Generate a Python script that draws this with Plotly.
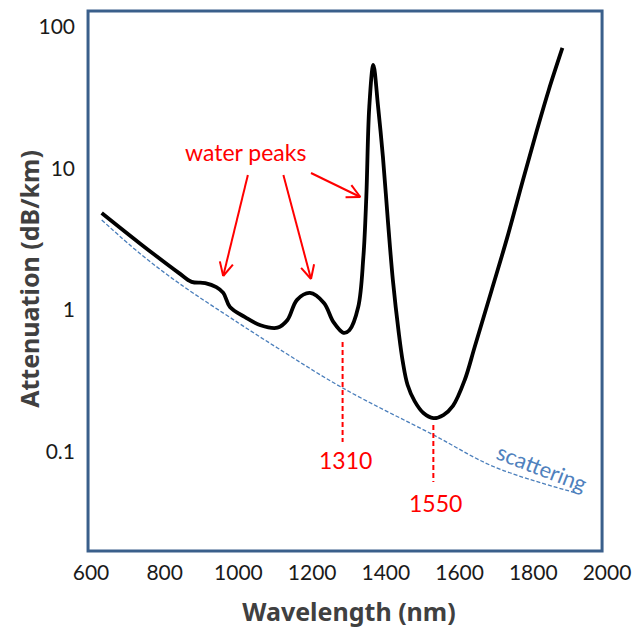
import math
import plotly.graph_objects as go

# ---------------- data ----------------
wavelength_nm = [629, 731, 838, 873, 910, 940, 959, 977, 1018, 1060, 1106, 1133, 1159,
                 1194, 1232, 1258, 1285, 1301, 1325, 1339, 1347, 1355, 1366, 1379, 1392,
                 1406, 1419, 1435, 1446, 1459, 1478, 1502, 1529, 1556, 1582, 1614, 1641,
                 1687, 1730, 1772, 1810, 1842, 1879]
attenuation_db_km = [4.85, 2.98, 1.83, 1.58, 1.55, 1.45, 1.32, 1.05, 0.89, 0.78, 0.75, 0.85, 1.18,
                     1.32, 1.12, 0.82, 0.69, 0.72, 1.05, 2.37, 6.3, 27.2, 53.9, 27.2, 12.1,
                     4.12, 1.63, 0.69, 0.43, 0.295, 0.227, 0.187, 0.172, 0.181, 0.21, 0.32, 0.548,
                     1.38, 3.3, 8.3, 18.7, 35.9, 71.1]

scatter_nm = [629, 731, 838, 1000, 1106, 1283, 1529, 1695, 1917]
scatter_db_km = [4.33, 2.53, 1.55, 0.81, 0.539, 0.281, 0.131, 0.0777, 0.0509]

x_ticks = [600, 800, 1000, 1200, 1400, 1600, 1800, 2000]
y_ticks = [0.1, 1, 10, 100]
y_tick_labels = ["0.1", "1", "10", "100"]

# ---------------- layout helpers ----------------
W, H = 642, 634
PL, PR, PT, PB = 91, 614, 11, 551   # plot area in pixels


def px(x):
    return (x - PL) / (PR - PL)


def py(y):
    return (PB - y) / (PB - PT)


FONT = "Lato, 'Noto Sans', sans-serif"
TITLE_FONT = "'Noto Sans', 'Open Sans', sans-serif"
RED = "#FF0000"
BLUE_TXT = "#4F81BD"
FRAME = "#3A5F8B"

fig = go.Figure()

fig.add_trace(go.Scatter(
    x=scatter_nm, y=scatter_db_km, mode="lines",
    line=dict(color="#4A7EBB", width=1.3, dash="4px,2px", shape="spline", smoothing=1.0),
    hoverinfo="skip", showlegend=False))

fig.add_trace(go.Scatter(
    x=wavelength_nm, y=attenuation_db_km, mode="lines",
    line=dict(color="black", width=3.8, shape="spline", smoothing=1.0),
    hoverinfo="skip", showlegend=False))

shapes = []
# frame
shapes.append(dict(type="rect", xref="paper", yref="paper",
                   x0=px(88), x1=px(609), y0=py(551), y1=py(11),
                   line=dict(color=FRAME, width=3), fillcolor="rgba(0,0,0,0)", layer="above"))


def arrow(tail, head, length=15, ang=27):
    (tx, ty), (hx, hy) = tail, head
    shapes.append(dict(type="line", xref="paper", yref="paper",
                       x0=px(tx), y0=py(ty), x1=px(hx), y1=py(hy),
                       line=dict(color=RED, width=2)))
    a = math.atan2(ty - hy, tx - hx)
    for s in (-1, 1):
        b = a + s * math.radians(ang)
        ex, ey = hx + length * math.cos(b), hy + length * math.sin(b)
        shapes.append(dict(type="line", xref="paper", yref="paper",
                           x0=px(hx), y0=py(hy), x1=px(ex), y1=py(ey),
                           line=dict(color=RED, width=2)))


arrow((250, 175), (225, 276))
arrow((286, 175), (314, 279))
arrow((314, 173), (364, 197))

# dashed markers at 1310 / 1550
shapes.append(dict(type="line", xref="paper", yref="paper",
                   x0=px(346), x1=px(346), y0=py(342), y1=py(442),
                   line=dict(color=RED, width=2, dash="5px,3px")))
shapes.append(dict(type="line", xref="paper", yref="paper",
                   x0=px(438), x1=px(438), y0=py(425), y1=py(482),
                   line=dict(color=RED, width=2, dash="5px,3px")))


def label(text, x, y, size, color, angle=0, family=FONT):
    return dict(text=text, xref="paper", yref="paper", x=px(x), y=py(y),
                xanchor="center", yanchor="middle", showarrow=False, textangle=angle,
                font=dict(family=family, size=size, color=color))


annotations = [
    label("water peaks", 248, 152, 23, RED),
    label("1310", 349, 460, 23, RED),
    label("1550", 440, 503, 23, RED),
    label("scattering", 548, 467, 22, BLUE_TXT, angle=21),
    label("<b>Attenuation (dB/km)</b>", 28, 279, 25, "#404040", angle=-90, family=TITLE_FONT),
]

fig.update_layout(
    width=W, height=H,
    margin=dict(l=PL, r=W - PR, t=PT, b=H - PB, pad=0),
    paper_bgcolor="white", plot_bgcolor="white",
    shapes=shapes, annotations=annotations,
    showlegend=False,
    xaxis=dict(range=[600, 2000], tickvals=x_ticks, ticks="", showgrid=False,
               zeroline=False, showline=False, ticklabelstandoff=7,
               tickfont=dict(family=FONT, size=21, color="#1a1a1a"),
               title=dict(text="<b>Wavelength (nm)</b>", standoff=20,
                          font=dict(family=TITLE_FONT, size=25, color="#404040"))),
    yaxis=dict(type="log", range=[(310 - 551) / 141.5, (310 - 11) / 141.5],
               tickvals=y_ticks, ticktext=y_tick_labels, ticks="", showgrid=False,
               zeroline=False, showline=False, ticklabelstandoff=15,
               tickfont=dict(family=FONT, size=21, color="#1a1a1a")),
)

fig.write_html("out.html")
